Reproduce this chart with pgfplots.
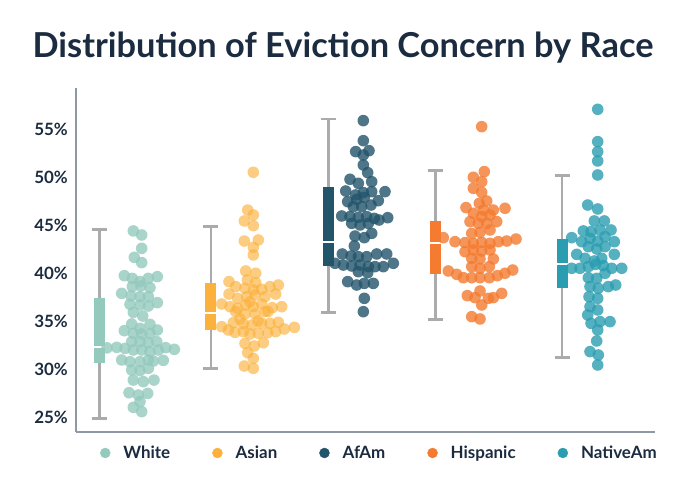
\documentclass[border=0pt]{standalone}
\usepackage{pgfplots}
\pgfplotsset{compat=1.18}
\usepackage{fontspec}
\setmainfont{Lato}
\definecolor{txt}{HTML}{1B2B40}
\definecolor{axgray}{HTML}{8F99A5}
\definecolor{wgray}{HTML}{ABABAB}
\definecolor{cW}{HTML}{94C9BD}
\definecolor{cA}{HTML}{FBB13C}
\definecolor{cF}{HTML}{22546A}
\definecolor{cH}{HTML}{F47B30}
\definecolor{cN}{HTML}{2A9DB0}
\pgfplotsset{
  wh/.style={forget plot, draw=wgray, line width=2.5bp, mark=none},
  bxf/.style={forget plot, draw=none, fill=#1, mark=none},
  med/.style={forget plot, draw=white, line width=2bp, mark=none},
  dots/.style={only marks, mark=*, mark size=5.8bp,
    mark options={draw=#1, fill=#1, fill opacity=0.8, draw opacity=0},
    legend image code/.code={\fill[#1] (0bp,0bp) circle (5bp);}},
}
\begin{document}
\begin{tikzpicture}[x=1bp,y=1bp]
\useasboundingbox (0,0) rectangle (693,500);
\node[font=\fontsize{34.5}{40}\selectfont\bfseries, text=txt] at (343,452) {Distribution of Eviction Concern by Race};
\begin{axis}[at={(76bp,68bp)}, anchor=south west, scale only axis,
  width=579bp, height=344bp, xmin=76, xmax=655, ymin=23.44, ymax=59.27,
  axis x line*=bottom, axis y line*=left,
  axis line style={draw=axgray, line width=2bp, -},
  xtick=\empty, ytick={25,30,35,40,45,50,55},
  yticklabels={25\%,30\%,35\%,40\%,45\%,50\%,55\%},
  major tick length=0pt,
  yticklabel style={font=\fontsize{17}{20}\selectfont\bfseries, text=txt, inner sep=0pt, xshift=-8bp, anchor=east},
  clip=false,
  legend columns=-1,
  legend style={at={(0.524,-0.061)}, anchor=center, draw=none, fill=none,
    font=\fontsize{17}{20}\selectfont\bfseries, text=txt,
    /tikz/every odd column/.append style={column sep=11bp},
    /tikz/every even column/.append style={column sep=40bp}},
]
% ---- White box
\addplot[wh] coordinates {(99.5,24.86) (99.5,44.55)};
\addplot[wh] coordinates {(92,44.55) (107,44.55)};
\addplot[wh] coordinates {(92,24.86) (107,24.86)};
\addplot[bxf=cW] coordinates {(94,30.59) (105,30.59) (105,37.36) (94,37.36)};
\addplot[med] coordinates {(94,32.26) (105,32.26)};
% ---- Asian box
\addplot[wh] coordinates {(210.8,30.07) (210.8,44.82)};
\addplot[wh] coordinates {(203.3,44.82) (218.3,44.82)};
\addplot[wh] coordinates {(203.3,30.07) (218.3,30.07)};
\addplot[bxf=cA] coordinates {(205.3,34.06) (216.3,34.06) (216.3,38.99) (205.3,38.99)};
\addplot[med] coordinates {(205.3,35.86) (216.3,35.86)};
% ---- AfAm box
\addplot[wh] coordinates {(328.3,35.86) (328.3,56.04)};
\addplot[wh] coordinates {(320.8,56.04) (335.8,56.04)};
\addplot[wh] coordinates {(320.8,35.86) (335.8,35.86)};
\addplot[bxf=cF] coordinates {(322.8,40.76) (333.8,40.76) (333.8,48.92) (322.8,48.92)};
\addplot[med] coordinates {(322.8,43.19) (333.8,43.19)};
% ---- Hispanic box
\addplot[wh] coordinates {(435.3,35.17) (435.3,50.66)};
\addplot[wh] coordinates {(427.8,50.66) (442.8,50.66)};
\addplot[wh] coordinates {(427.8,35.17) (442.8,35.17)};
\addplot[bxf=cH] coordinates {(429.8,39.90) (440.8,39.90) (440.8,45.45) (429.8,45.45)};
\addplot[med] coordinates {(429.8,43.16) (440.8,43.16)};
% ---- NativeAm box
\addplot[wh] coordinates {(562.2,31.18) (562.2,50.16)};
\addplot[wh] coordinates {(554.7,50.16) (569.7,50.16)};
\addplot[wh] coordinates {(554.7,31.18) (569.7,31.18)};
\addplot[bxf=cN] coordinates {(556.7,38.40) (567.7,38.40) (567.7,43.54) (556.7,43.54)};
\addplot[med] coordinates {(556.7,40.97) (567.7,40.97)};
% White
\addplot[dots=cW] coordinates {
(107,32.2)
(133.3,44.38)(141.7,43.96)(141.7,42.57)(134.3,41.63)(141.7,41.08)
(124.3,39.72)(132.3,39.44)(140,39.10)(148.3,39.44)(157.3,39.62)
(132.3,38.58)(141,38.65)(150,38.47)
(121.7,37.88)(131,37.60)(140,37.53)(148.3,37.53)
(130,36.74)(140,36.67)(148.3,36.56)(157.3,36.91)
(133.3,35.90)(142.7,35.52)
(131.7,34.69)(140,34.24)(150,34.65)
(124.3,33.99)(133.3,33.72)(141.7,33.65)(150,33.72)(157.3,34.06)
(131.7,32.85)(140,32.85)(148.3,32.74)(156.7,32.85)
(116.7,32.26)(125,32.15)(133.3,31.98)(141.7,31.98)(150,31.81)(158.3,31.98)(165.7,32.22)(174.3,32.05)
(121.7,30.94)(130,30.76)(140,30.76)(148.3,30.94)(153.3,30.83)(163.3,30.90)
(131.7,29.90)(140,29.83)(148.3,30.07)
(133.3,28.85)(143.3,28.68)(154,28.85)
(129,27.53)(138.3,27.29)(147.7,27.46)
(140,26.60)(133.3,26.01)(141.7,25.56)
};
\addlegendentry{White}
% Asian
\addplot[only marks, mark=*, mark size=5.8bp,
    mark options={draw=cA, fill=cA, fill opacity=0.65, draw opacity=0},
    legend image code/.code={\fill[cA] (0bp,0bp) circle (5bp);}] coordinates {
(253.3,50.49)(247.7,46.56)(253.3,46.04)(244.3,45.42)(253.3,44.93)
(244.3,43.33)(258.3,43.44)(253.3,42.67)(253.3,41.88)
(245.7,40.21)(255.7,39.97)
(229,39.10)(247.3,39.27)(255.7,38.99)
(235.7,38.58)(245,38.40)(253.3,38.23)(261.7,38.30)(270,38.58)(278.3,38.75)
(229,37.81)(237.7,37.36)(246.7,37.53)(255,37.71)(265,37.53)(275.7,37.81)
(221.7,36.77)(230,36.49)(237.7,36.32)(245.7,36.67)(253.3,36.49)(261.7,36.77)(272.3,36.39)(281.7,36.49)
(235.7,35.97)(245,35.73)(255,35.73)(265,35.97)
(233.3,34.83)(243.3,34.69)(251.7,34.58)(261.7,34.76)(270,34.76)(278.3,34.86)
(221.7,34.41)(228.3,34.06)(235,33.82)(243.3,33.89)(250,33.65)(258.3,33.72)(267.7,33.78)(275.7,33.89)(284.3,34.17)(294.3,34.34)
(245,32.67)(254.3,32.40)(263.3,32.74)
(247.7,31.70)(253.3,31.11)
(244.3,30.31)(253.3,30.07)
(250,37.0)(240,35.2)(258,35.0)(268,36.0)
};
\addlegendentry{Asian}
% AfAm
\addplot[dots=cF] coordinates {
(363.3,55.87)(363.3,53.78)(355.7,52.64)(363.3,52.29)(369,52.74)
(363.3,51.25)(367.7,50.45)
(350,49.76)(358.3,49.34)(371.7,49.51)
(345.7,48.54)(355.7,48.13)(363.3,48.37)(371.7,48.47)(385,48.47)
(347.7,47.43)(356.7,47.67)(364.3,47.88)(378.3,47.53)
(353.3,46.91)(361.7,46.91)(371,47.08)
(341.7,45.94)(350,45.87)(358.3,45.80)(366.7,45.87)(374.3,45.69)(379,45.52)(387.7,45.76)
(351.7,45.17)(360,45.00)(368.3,45.17)
(355,43.85)(364.3,43.68)(371.7,44.13)
(354.3,42.81)
(342.3,41.98)(351,41.77)(358.3,41.70)(366.7,41.70)(376.7,41.98)(386.7,41.98)
(335,41.01)(343.3,40.83)(351.7,40.73)(360,40.83)(368.3,40.66)(375,40.66)(383.3,40.66)(393.3,41.01)
(358.3,40.14)(367.7,40.03)
(347.7,39.10)(356.7,38.75)(364.3,38.92)(373.3,38.92)
(364.3,37.36)(363.3,35.97)
};
\addlegendentry{AfAm}
% Hispanic
\addplot[dots=cH] coordinates {
(481.7,55.24)
(484.3,50.56)(473.3,49.97)(481.7,49.51)
(473.3,48.82)(481.7,48.40)
(486.7,47.50)(479.3,47.26)
(466,46.81)(483.3,46.56)(493.3,46.56)(505,46.74)
(473.3,46.22)(481.7,45.87)(490,46.04)
(470,45.35)(478.3,45.17)(486.7,45.17)(496.7,45.35)
(471.7,44.13)(480,44.24)(490,44.48)
(443.3,43.68)(455,43.26)(465,43.16)(473.3,43.09)(481.7,43.19)(490,43.09)(498.3,43.26)(506.7,43.33)(516,43.54)
(465,42.22)(473.3,42.40)(481.7,42.29)(490,42.40)
(471.7,41.53)(480,41.46)(493.3,41.46)
(471.7,40.66)(480,40.49)(489.3,40.66)
(448.3,40.21)(456.7,39.86)(463.3,39.51)(471.7,39.51)(480,39.51)(489.3,39.51)(497.3,39.72)(505,39.97)(512.7,40.31)
(467.3,37.64)(475,37.43)(480,38.13)(488.3,37.36)(493.3,37.43)(501.7,37.88)
(481.7,36.67)
(471.7,35.45)(480,35.21)
};
\addlegendentry{Hispanic}
% NativeAm
\addplot[dots=cN] coordinates {
(597.7,57.05)
(597.7,53.68)(597.7,52.64)(597.7,51.67)(597.7,50.21)
(587.7,47.08)(597.7,46.67)
(594.3,45.42)(604.3,45.42)
(583.3,44.38)(591,44.31)(600,44.48)(611,44.48)
(571.7,43.68)(581.7,43.26)(590,43.61)(597.7,43.33)(605,43.78)(614.3,43.26)
(588.3,42.74)(596.7,42.50)(605,42.74)
(576.7,41.94)(585,41.53)(594.3,41.25)(601.7,41.53)(614.3,41.94)
(571.7,40.49)(580,40.49)(588.3,40.66)(595.7,40.90)(603.3,40.76)(611.7,40.49)(621.7,40.49)
(588.3,39.51)(596.7,39.44)(605,39.97)
(590,38.58)(598.3,38.40)(608.3,38.58)(615.7,38.75)
(589,37.53)(597.7,37.36)
(590,36.49)(597.7,36.15)
(587.7,35.63)
(591,34.76)(600,34.93)(610,34.93)
(597.7,34.06)(596.7,32.92)
(590,31.81)(598.3,31.46)
(597.7,30.42)
};
\addlegendentry{NativeAm}
\end{axis}
\end{tikzpicture}
\end{document}
